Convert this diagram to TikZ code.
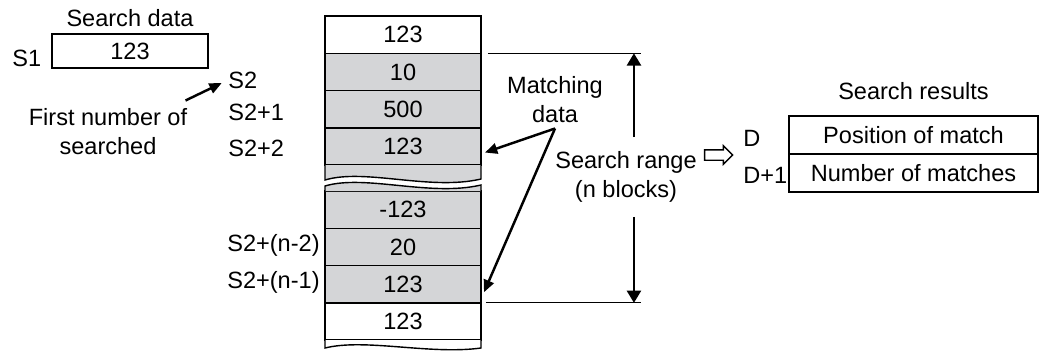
\documentclass[tikz,border=0pt]{standalone}
\usepackage{fontspec}
\setmainfont{Liberation Sans}
\usepackage{tikz}
\usetikzlibrary{
  arrows.meta,
  positioning,
  shapes.arrows
}
\definecolor{cellGray}{RGB}{212,213,215}

\begin{document}
\begin{tikzpicture}[
  x=0.02cm, y=-0.02cm,
  font=\fontsize{13.4}{16.5}\selectfont,
  cell/.style={
    draw,
    line width=0.8pt,
    fill=white,
    minimum width=3.12cm,
    minimum height=0.746cm,
    inner sep=0pt,
    outer sep=0pt
  },
  graycell/.style={cell, fill=cellGray},
  rescell/.style={cell, minimum width=4.98cm, minimum height=0.76cm},
  lbl/.style={inner sep=0pt, anchor=west},
  note/.style={align=center, inner sep=0pt},
  arrow/.style={-{Triangle[length=7pt,width=6pt]}, line width=1.4pt},
  bound/.style={line width=0.6pt},
  hollow/.style={
    single arrow,
    draw,
    line width=0.8pt,
    minimum height=0.56cm,
    single arrow head extend=0.08cm,
    inner sep=0.09cm
  }
]
\useasboundingbox (0,0) rectangle (1040,352);

% search data
\node[cell, minimum height=0.68cm] (s1box) at (130,51) {123};
\node[note, above=0.14cm of s1box] (sdata) {Search data};
\node[lbl] (s1) at (12,58) {S1};
\node[note] (first) at (108,132) {First number of\\searched};

% device column, upper part
\node[cell] (c1) at (403,34.65) {123};
\node[graycell, below=0pt of c1] (c2) {10};
\node[graycell, below=0pt of c2] (c3) {500};
\node[graycell, below=0pt of c3] (c4) {123};
\draw[line width=0.8pt, fill=cellGray] (c4.south west) -- (325,180)
  .. controls (365,168) and (430,191) .. (481,179) -- (c4.south east);

% device column, lower part
\node[graycell] (c5) at (403,209.65) {-123};
\node[graycell, below=0pt of c5] (c6) {20};
\node[graycell, below=0pt of c6] (c7) {123};
\node[cell, below=0pt of c7] (c8) {123};
\draw[line width=0.8pt, fill=cellGray] (c5.north west) -- (325,186)
  .. controls (365,174) and (430,197) .. (481,185) -- (c5.north east);
\draw[line width=0.8pt, fill=white] (c8.south west) -- (325,348)
  .. controls (365,338) and (430,355) .. (481,348) -- (c8.south east);

% device labels
\node[lbl] (s2) at (228,80) {S2};
\node[lbl] (s2a) at (228,112) {S2+1};
\node[lbl] (s2b) at (228,148) {S2+2};
\node[lbl] (s2n2) at (227,245) {S2+(n-2)};
\node[lbl] (s2n1) at (227,282) {S2+(n-1)};
\draw[arrow, shorten >=4pt] ([shift={(-2,-8)}]first.north east) -- (s2.west);

% matching data
\node[note] (match) at (555,100) {Matching\\data};
\draw[arrow] ([yshift=-0.1cm]match.south) -- ([shift={(4,6)}]c4.east);
\draw[arrow] ([yshift=-0.1cm]match.south) -- ([shift={(3,8)}]c7.east);

% search range
\coordinate (rt) at ([xshift=3.06cm]c1.south east);
\coordinate (rb) at ([xshift=3.06cm]c7.south east);
\draw[bound] ([xshift=0.14cm]c1.south east) -- ([xshift=0.14cm]rt);
\draw[bound] ([xshift=0.1cm]c7.south east) -- ([xshift=0.14cm]rb);
\node[note, inner ysep=0.28cm] (range) at (626,177) {Search range\\(n blocks)};
\draw[arrow, -{Triangle[length=7pt,width=8pt]}] (range.north -| rt) -- (rt);
\draw[arrow, -{Triangle[length=7pt,width=8pt]}] (range.south -| rb) -- (rb);
\node[hollow] (toD) at (716,155) {};

% search results
\node[rescell] (r1) at (913.5,135) {Position of match};
\node[rescell, below=0pt of r1] (r2) {Number of matches};
\node[note, above=0.32cm of r1] (sres) {Search results};
\node[lbl] (d) at (743,138) {D};
\node[lbl] (d1) at (743,175) {D+1};

\end{tikzpicture}
\end{document}
